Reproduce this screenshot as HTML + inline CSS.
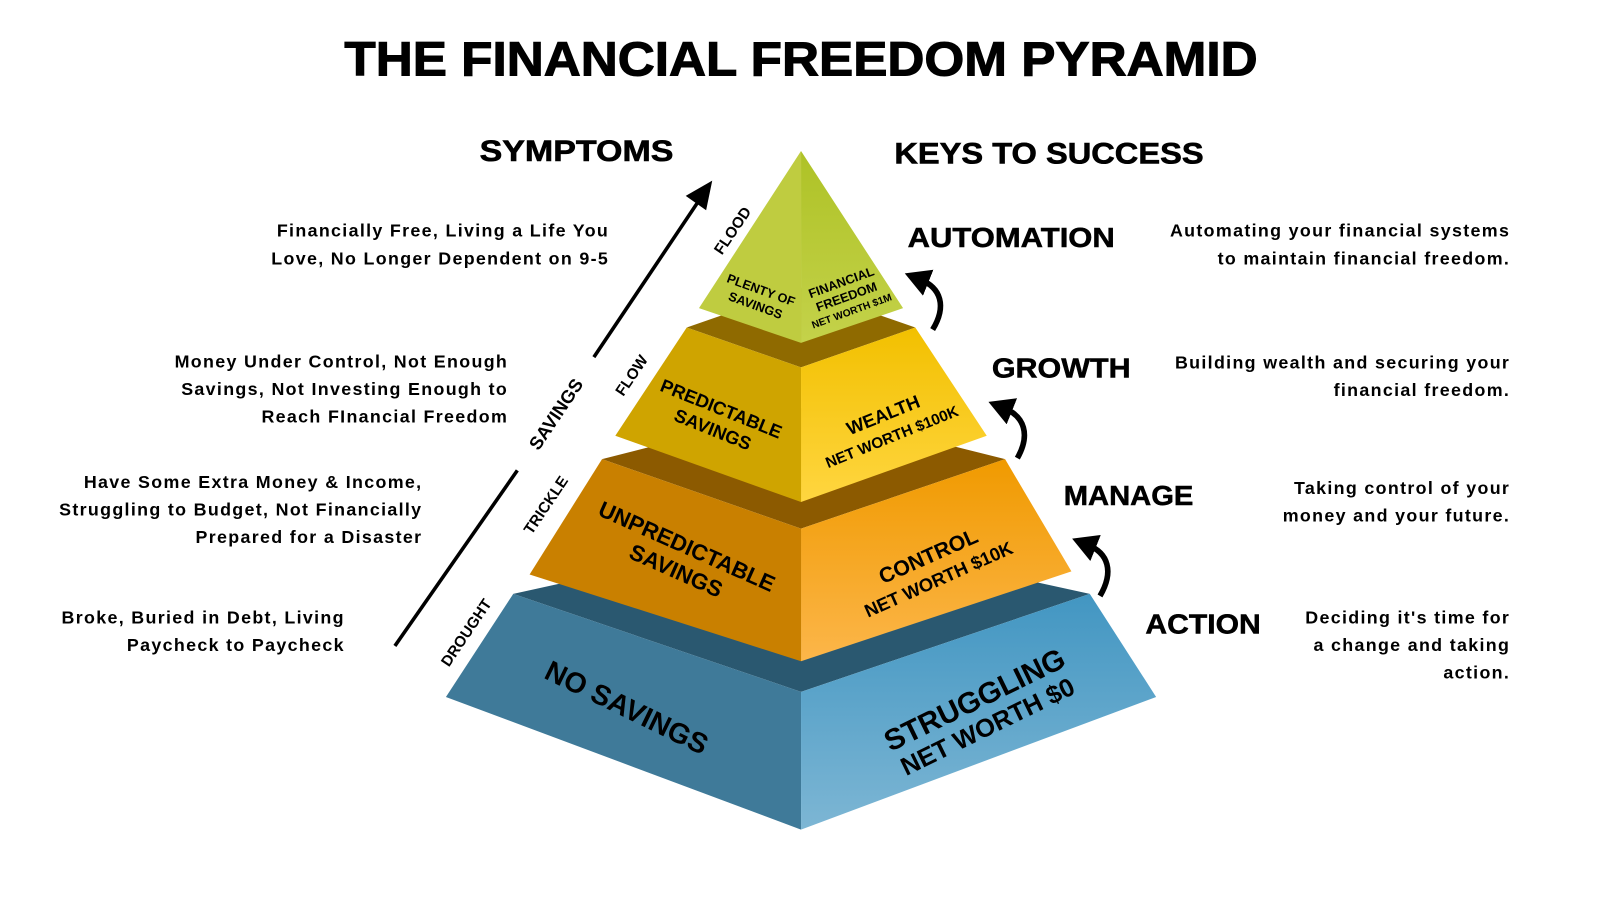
<!DOCTYPE html>
<html><head><meta charset="utf-8"><style>
html,body{margin:0;padding:0;background:#fff}
svg{display:block}
text{font-family:"Liberation Sans","DejaVu Sans",sans-serif;font-weight:bold;fill:#000}
.d{letter-spacing:1.3px}
</style></head><body>
<svg width="1600" height="900" viewBox="0 0 1568 882" xmlns="http://www.w3.org/2000/svg">
<defs>
<linearGradient id="gR" x1="0" y1="0" x2="0" y2="1"><stop offset="0" stop-color="#aec226"/><stop offset="1" stop-color="#c4d24a"/></linearGradient>
<linearGradient id="yR" x1="0" y1="0" x2="0" y2="1"><stop offset="0" stop-color="#f2c000"/><stop offset="1" stop-color="#ffd640"/></linearGradient>
<linearGradient id="oR" x1="0" y1="0" x2="0" y2="1"><stop offset="0" stop-color="#f09a00"/><stop offset="1" stop-color="#fcb64a"/></linearGradient>
<linearGradient id="bR" x1="0" y1="0" x2="0" y2="1"><stop offset="0" stop-color="#4296c2"/><stop offset="1" stop-color="#7db6d4"/></linearGradient>
<marker id="ah" markerWidth="5" markerHeight="5" refX="1.5" refY="2.5" orient="auto" markerUnits="strokeWidth"><path d="M0,0 L4.5,2.5 L0,5 Z" fill="#000"/></marker>
</defs>

<text x="785" y="74" font-size="47" text-anchor="middle" textLength="895" lengthAdjust="spacingAndGlyphs" stroke="#000" stroke-width="1">THE FINANCIAL FREEDOM PYRAMID</text>
<text x="565" y="158" font-size="29" text-anchor="middle" textLength="190" lengthAdjust="spacingAndGlyphs" stroke="#000" stroke-width="0.6">SYMPTOMS</text>
<text x="1028" y="160" font-size="29" text-anchor="middle" textLength="303" lengthAdjust="spacingAndGlyphs" stroke="#000" stroke-width="0.6">KEYS TO SUCCESS</text>

<!-- base -->
<polygon points="503,582 785,520 1068,582 785,678" fill="#2a5870"/>
<polygon points="503,582 785,678 785,813 437,683" fill="#3f7a99"/>
<polygon points="785,678 1068,582 1133,683 785,813" fill="url(#bR)"/>
<!-- tier3 -->
<polygon points="590,450 785,400 985,450 785,518" fill="#8c5a00"/>
<polygon points="590,450 785,518 785,648 519,563" fill="#c98000"/>
<polygon points="785,518 985,450 1050,560 785,648" fill="url(#oR)"/>
<!-- tier2 -->
<polygon points="673,321 785,282 897,321 785,360" fill="#8f6a00"/>
<polygon points="673,321 785,360 785,492 603,427" fill="#cfa400"/>
<polygon points="785,360 897,321 967,427 785,492" fill="url(#yR)"/>
<!-- tier1 -->
<polygon points="785,148 685,302 785,336" fill="#bfcc40"/>
<polygon points="785,148 885,302 785,336" fill="url(#gR)"/>

<!-- pyramid texts -->
<g transform="translate(743,292) rotate(20)" font-size="12.5"><text text-anchor="middle" y="-4">PLENTY OF</text><text text-anchor="middle" y="12">SAVINGS</text></g>
<g transform="translate(830,292) rotate(-20)"><text text-anchor="middle" y="-12" font-size="12.5">FINANCIAL</text><text text-anchor="middle" y="3" font-size="12.5">FREEDOM</text><text text-anchor="middle" y="17" font-size="10">NET WORTH $1M</text></g>
<g transform="translate(703,410) rotate(22)" font-size="18"><text text-anchor="middle" y="-4">PREDICTABLE</text><text text-anchor="middle" y="18">SAVINGS</text></g>
<g transform="translate(870,418) rotate(-22)"><text text-anchor="middle" y="-6" font-size="18">WEALTH</text><text text-anchor="middle" y="16" font-size="15">NET WORTH $100K</text></g>
<g transform="translate(668,547) rotate(24)" font-size="22"><text text-anchor="middle" y="-5">UNPREDICTABLE</text><text text-anchor="middle" y="21">SAVINGS</text></g>
<g transform="translate(915,557) rotate(-24)"><text text-anchor="middle" y="-6" font-size="21">CONTROL</text><text text-anchor="middle" y="18" font-size="18">NET WORTH $10K</text></g>
<g transform="translate(610,702) rotate(26)"><text text-anchor="middle" font-size="28">NO SAVINGS</text></g>
<g transform="translate(962,700) rotate(-26)"><text text-anchor="middle" y="-6" font-size="29">STRUGGLING</text><text text-anchor="middle" y="22" font-size="25">NET WORTH $0</text></g>

<!-- left arrow -->
<line x1="387" y1="633" x2="507" y2="461" stroke="#000" stroke-width="3.5"/>
<line x1="582" y1="350" x2="684" y2="198" stroke="#000" stroke-width="3.5"/>
<polygon points="698,177 672,192 692,206" fill="#000"/>
<g transform="translate(545,406) rotate(-56)"><text text-anchor="middle" font-size="18" y="6">SAVINGS</text></g>
<g transform="translate(718,226) rotate(-56)"><text text-anchor="middle" font-size="15" y="5">FLOOD</text></g>
<g transform="translate(619,368) rotate(-56)"><text text-anchor="middle" font-size="15" y="5">FLOW</text></g>
<g transform="translate(535,495) rotate(-56)"><text text-anchor="middle" font-size="15" y="5">TRICKLE</text></g>
<g transform="translate(457,620) rotate(-56)"><text text-anchor="middle" font-size="15" y="5">DROUGHT</text></g>

<!-- curved arrows -->
<g fill="none" stroke="#000" stroke-width="5.5" stroke-linecap="butt">
<path d="M914,323 C928,300 922,282 902,274" marker-end="url(#ah)"/>
<path d="M997,449 C1010,426 1004,408 984,400" marker-end="url(#ah)"/>
<path d="M1078,584 C1092,560 1086,542 1066,534" marker-end="url(#ah)"/>
</g>

<!-- right labels -->
<g font-size="27" stroke="#000" stroke-width="0.5">
<text x="991" y="242" text-anchor="middle" textLength="203" lengthAdjust="spacingAndGlyphs">AUTOMATION</text>
<text x="1040" y="370" text-anchor="middle" textLength="136" lengthAdjust="spacingAndGlyphs">GROWTH</text>
<text x="1106" y="495" text-anchor="middle" textLength="127" lengthAdjust="spacingAndGlyphs">MANAGE</text>
<text x="1179" y="621" text-anchor="middle" textLength="113" lengthAdjust="spacingAndGlyphs">ACTION</text>
</g>
<g font-size="17.5" text-anchor="end" class="d">
<text x="1480" y="232">Automating your financial systems</text>
<text x="1480" y="259">to maintain financial freedom.</text>
<text x="1480" y="361">Building wealth and securing your</text>
<text x="1480" y="388">financial freedom.</text>
<text x="1480" y="484">Taking control of your</text>
<text x="1480" y="511">money and your future.</text>
<text x="1480" y="611">Deciding it's time for</text>
<text x="1480" y="638">a change and taking</text>
<text x="1480" y="665">action.</text>

<text x="597" y="232">Financially Free, Living a Life You</text>
<text x="597" y="259">Love, No Longer Dependent on 9-5</text>
<text x="498" y="360">Money Under Control, Not Enough</text>
<text x="498" y="387">Savings, Not Investing Enough to</text>
<text x="498" y="414">Reach FInancial Freedom</text>
<text x="414" y="478">Have Some Extra Money &amp; Income,</text>
<text x="414" y="505">Struggling to Budget, Not Financially</text>
<text x="414" y="532">Prepared for a Disaster</text>
<text x="338" y="611">Broke, Buried in Debt, Living</text>
<text x="338" y="638">Paycheck to Paycheck</text>
</g>
</svg>
</body></html>
